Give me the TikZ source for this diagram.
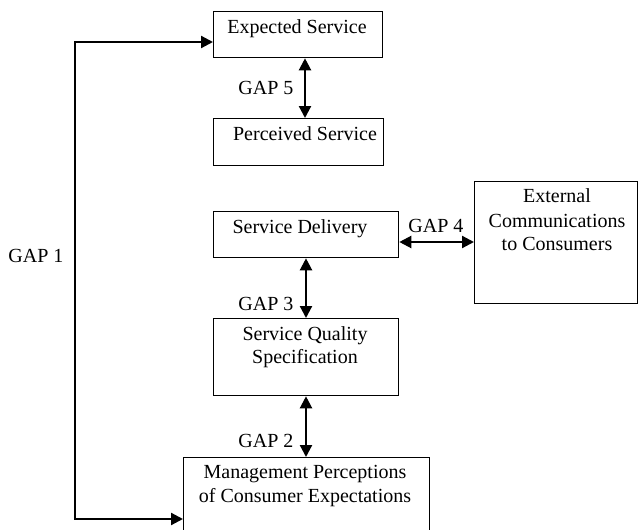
\documentclass[tikz,border=0pt]{standalone}
\usepackage{fontspec}
\setmainfont{Liberation Serif}
\usetikzlibrary{arrows.meta}
\begin{document}
\begin{tikzpicture}[x=1pt,y=-1pt,
  box/.style={draw, line width=1.3pt, rectangle, anchor=north west, inner sep=0pt},
  txt/.style={anchor=base, inner sep=0pt, font=\fontsize{20}{23}\selectfont, align=center},
  arr/.style={line width=2.2pt, {Triangle[length=12pt,width=12pt]}-{Triangle[length=12pt,width=12pt]}}]
\useasboundingbox (0,0) rectangle (638,530);
% boxes
\node[box, minimum width=169pt, minimum height=46pt] (exp) at (213,11) {};
\node[box, minimum width=170pt, minimum height=47pt] (per) at (213,118) {};
\node[box, minimum width=185pt, minimum height=46pt] (del) at (213,211) {};
\node[box, minimum width=163pt, minimum height=122pt] (ext) at (474,181) {};
\node[box, minimum width=185pt, minimum height=77pt] (sqs) at (213,318) {};
\node[box, minimum width=246pt, minimum height=90pt] (mgt) at (183,457) {};
% texts
\node[txt] (texp) at (297,33) {Expected Service};
\node[txt] (tper) at (305,140) {Perceived Service};
\node[txt] (tdel) at (300,233) {Service Delivery};
\node[txt] (text1) at (557,202) {External};
\node[txt] (text2) at (557,227) {Communications};
\node[txt] (text3) at (557,250) {to Consumers};
\node[txt] (tsqs1) at (305,340) {Service Quality};
\node[txt] (tsqs2) at (305,363) {Specification};
\node[txt] (tmgt1) at (305,478) {Management Perceptions};
\node[txt] (tmgt2) at (305,502) {of Consumer Expectations};
% gap labels
\node[txt] (g5) at (266,94) {GAP 5};
\node[txt] (g4) at (436,232) {GAP 4};
\node[txt] (g3) at (266,310) {GAP 3};
\node[txt] (g2) at (266,447) {GAP 2};
\node[txt] (g1) at (36,262) {GAP 1};
% connectors
\coordinate (c5) at (305,0);
\draw[arr] (exp.south -| c5) -- (per.north -| c5);
\coordinate (c3) at (306,0);
\draw[arr] (del.south -| c3) -- (sqs.north -| c3);
\draw[arr] (sqs.south -| c3) -- (mgt.north -| c3);
\coordinate (c4) at (0,242);
\draw[arr] (del.east |- c4) -- (ext.west |- c4);
\coordinate (ctop) at (75,42);
\coordinate (cbot) at (75,519);
\draw[arr] (mgt.west |- cbot) -- (cbot) -- (ctop) -- (exp.west |- ctop);
\end{tikzpicture}
\end{document}
